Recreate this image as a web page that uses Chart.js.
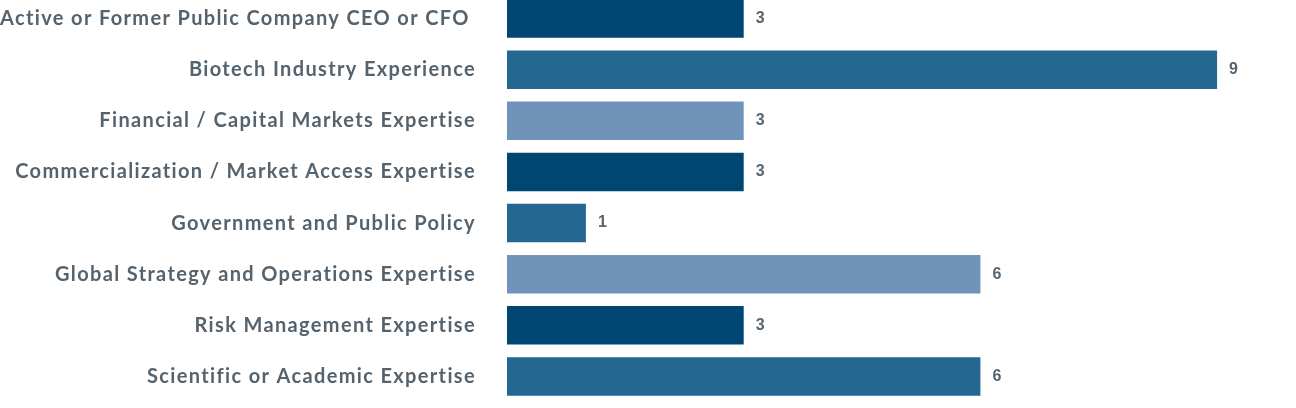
<!DOCTYPE html>
<html>
<head>
  <script src="https://cdnjs.cloudflare.com/ajax/libs/Chart.js/4.4.1/chart.umd.min.js"></script>
  <title>Board Skills</title>
  <style>
    html, body { margin: 0; padding: 0; background: #fff; overflow: hidden; }
    #skillsChart { position: absolute; left: 0; top: -7px; }
  </style>
</head>
<body>
  <canvas id="skillsChart" width="1296" height="409"></canvas>

  <script>
    // categories and values
    const skills = [
      "Active or Former Public Company CEO or CFO ",
      "Biotech Industry Experience",
      "Financial / Capital Markets Expertise",
      "Commercialization / Market Access Expertise",
      "Government and Public Policy",
      "Global Strategy and Operations Expertise",
      "Risk Management Expertise",
      "Scientific or Academic Expertise"
    ];
    const directors = [3, 9, 3, 3, 1, 6, 3, 6];
    const palette = ["#004673", "#246791", "#7094b9"];

    // the labels in the picture are set with a little extra tracking
    const tracking = {
      id: "tracking",
      beforeLayout(chart) { chart.ctx.letterSpacing = "1.35px"; },
      beforeDraw(chart) { chart.ctx.letterSpacing = "1.35px"; }
    };

    // draws the number just past the end of each bar
    const valueLabels = {
      id: "valueLabels",
      afterDatasetsDraw(chart) {
        const c = chart.ctx;
        const meta = chart.getDatasetMeta(0);
        c.save();
        c.letterSpacing = "0px";
        c.font = "bold 16px 'Liberation Sans', Arial, sans-serif";
        c.fillStyle = "#56646f";
        c.textBaseline = "middle";
        c.textAlign = "left";
        meta.data.forEach((bar, i) => {
          c.fillText(directors[i], bar.x + 12, bar.y);
        });
        c.restore();
      }
    };

    let ctx = document.getElementById("skillsChart").getContext("2d");
    let chart = new Chart(ctx, {
      type: "bar",
      data: {
        labels: skills,
        datasets: [{
          data: directors,
          backgroundColor: skills.map((s, i) => palette[i % 3]),
          borderWidth: 0,
          barPercentage: 0.755,
          categoryPercentage: 1
        }]
      },
      options: {
        indexAxis: "y",
        responsive: false,
        animation: false,
        layout: { padding: 0, autoPadding: false },
        plugins: {
          legend: { display: false },
          tooltip: { enabled: false }
        },
        scales: {
          x: {
            min: 0,
            max: 10,
            display: false
          },
          y: {
            grid: { display: false, drawTicks: false },
            border: { display: false },
            afterFit(scale) {
              scale.width = 507;
              scale.paddingTop = 0;
              scale.paddingBottom = 0;
            },
            ticks: {
              padding: 31,
              color: "#55636e",
              font: { family: "Lato", size: 20, weight: "bold" }
            }
          }
        }
      },
      plugins: [tracking, valueLabels]
    });
  </script>
</body>
</html>
